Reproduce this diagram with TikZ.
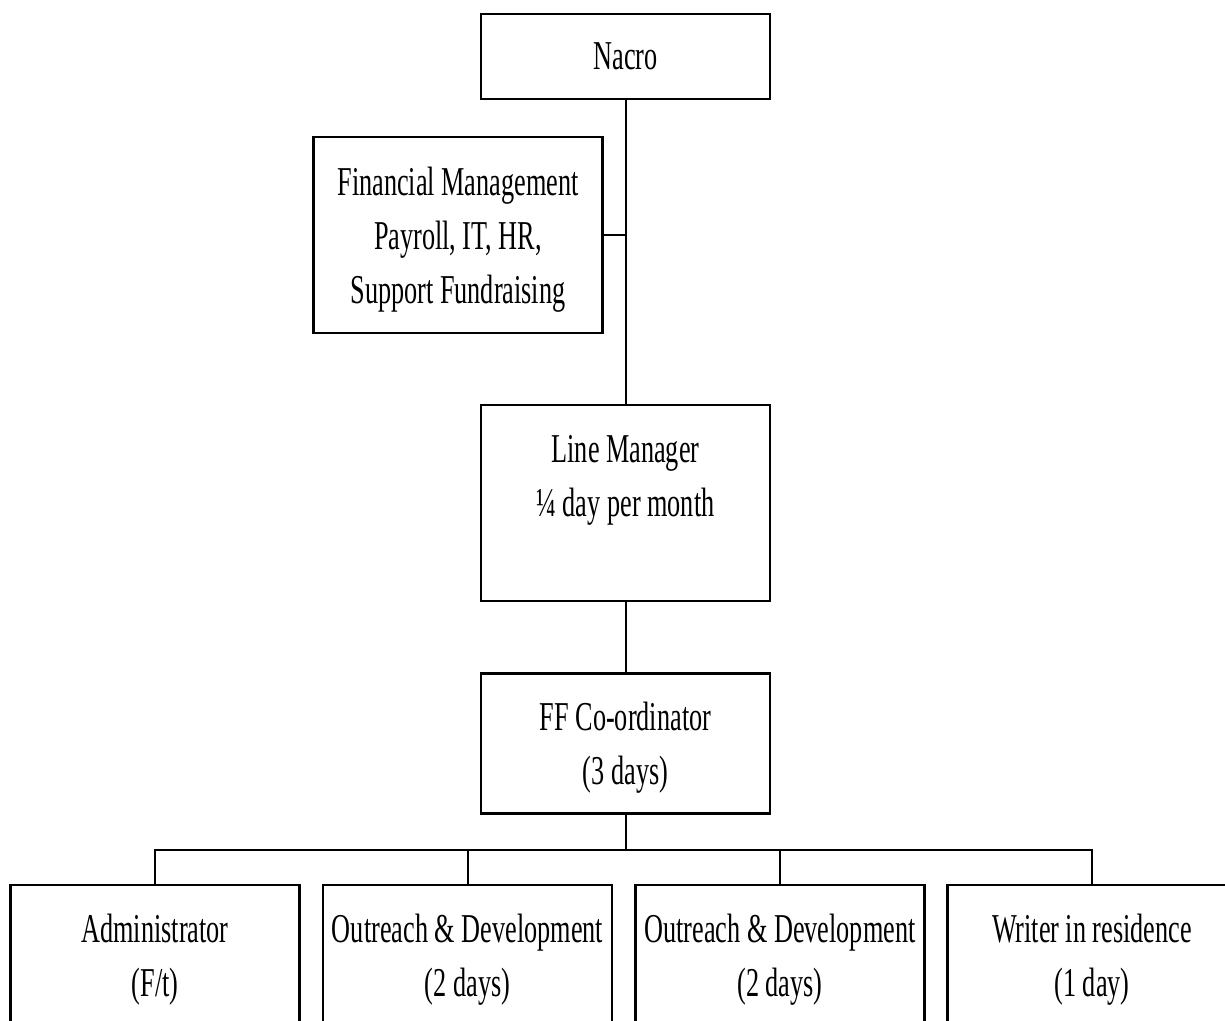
\documentclass[tikz,border=0pt]{standalone}
\usepackage{fontspec}
\setmainfont{Liberation Serif}[FakeStretch=0.64]
\usepackage{tikz}
\usetikzlibrary{positioning}

\begin{document}
\begin{tikzpicture}[
    x=0.5pt, y=-0.5pt,
    box/.style={rectangle, draw, line width=1.4pt, inner sep=2pt, align=center,
        text depth=0pt, minimum width=144.5pt, font=\fontsize{20.5}{27}\selectfont},
    link/.style={line width=1pt}
]
\useasboundingbox (0,0) rectangle (1225,1021);
\clip (0,0) rectangle (1225,1021);

% Top of the chart
\node[box, minimum height=42.5pt] (nacro) at (625.5, 56.5) {Nacro};
\node[box, minimum height=98pt] (finance) at (458, 235) {Financial Management\\ Payroll, IT, HR,\\ Support Fundraising};

% Management line
\node[box, minimum height=98pt] (linemgr) at (625.5, 503) {Line Manager\\ ¼ day per month\\ \mbox{}};
\node[box, minimum height=70pt] (coord) at (625.5, 743.5) {FF Co-ordinator\\ (3 days)};

% Staff (bottom row)
\node[box, minimum height=70pt] (admin) at (155, 955) {Administrator\\ (F/t)};
\node[box, minimum height=70pt] (outreachA) at (467.5, 955) {Outreach \& Development\\ (2 days)};
\node[box, minimum height=70pt] (outreachB) at (780, 955) {Outreach \& Development\\ (2 days)};
\node[box, minimum height=70pt] (writer) at (1092, 955) {Writer in residence\\ (1 day)};

% Connectors
\coordinate (bus) at (625.5, 850);
\draw[link] (nacro.south) -- (linemgr.north);
\draw[link] (finance.east) -- (finance.east -| nacro.south);
\draw[link] (linemgr.south) -- (coord.north);
\draw[link] (coord.south) -- (bus);
\foreach \staff in {admin, outreachA, outreachB, writer}
    \draw[link] (\staff.north) |- (bus);

\end{tikzpicture}
\end{document}
